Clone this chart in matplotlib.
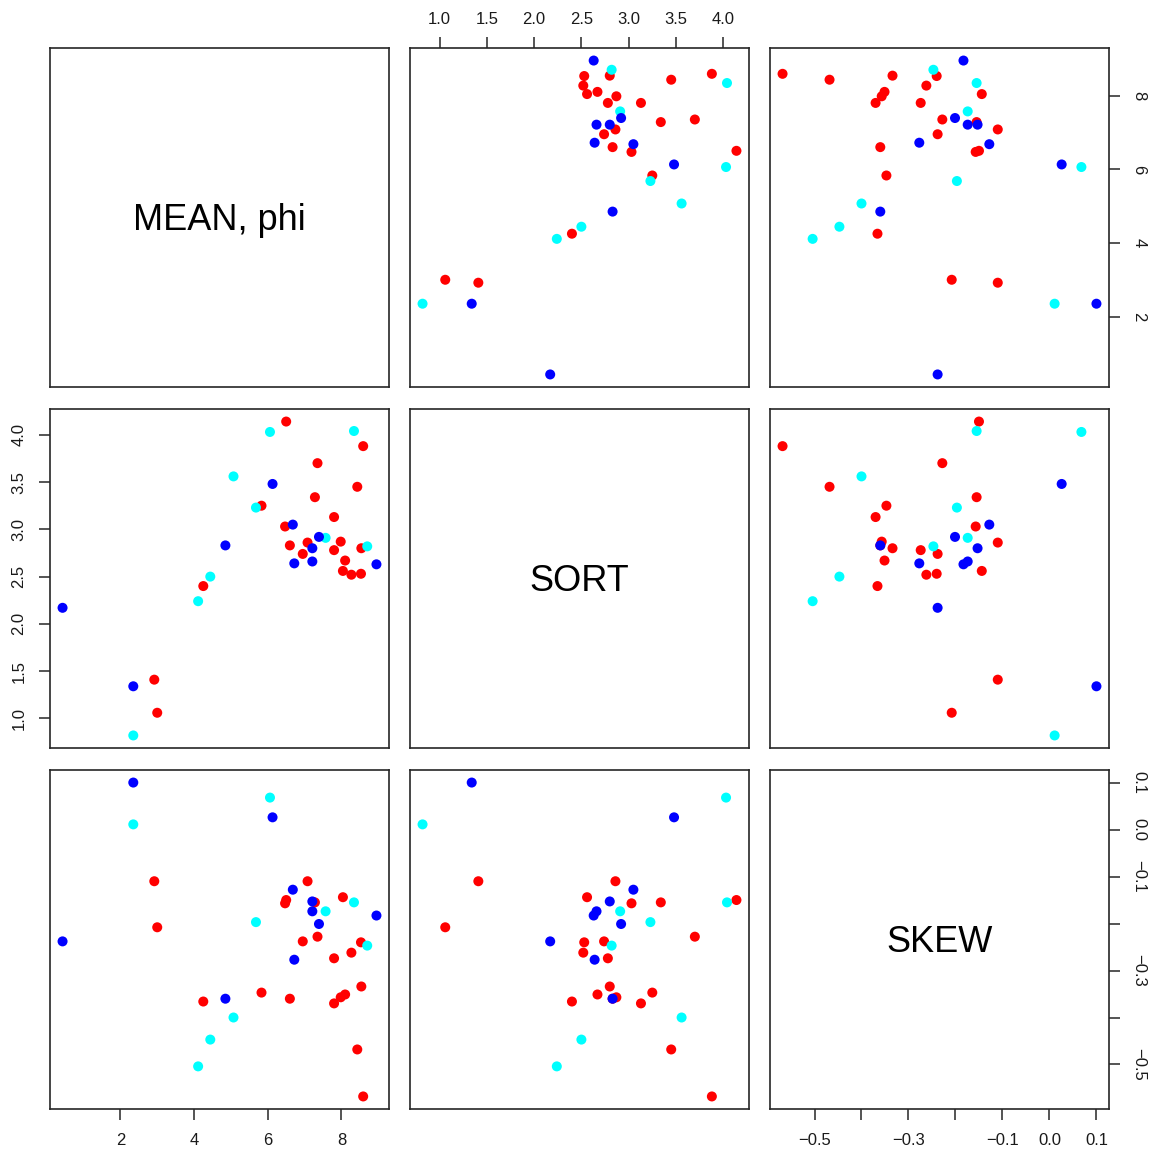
import matplotlib
matplotlib.use("Agg")
import matplotlib.pyplot as plt
import numpy as np

plt.rcParams['font.family'] = ['Liberation Sans', 'DejaVu Sans']

# ---- data: (MEAN phi, SORT, SKEW) per group ----
red_mean = [6.50, 8.59, 7.35, 8.43, 7.28, 5.83, 7.80, 6.47, 7.98, 6.60, 7.08,
            7.80, 8.54, 6.95, 8.10, 8.04, 8.27, 8.53, 2.92, 3.00, 4.25]
red_sort = [4.14, 3.88, 3.70, 3.45, 3.34, 3.25, 3.13, 3.03, 2.87, 2.83, 2.86,
            2.78, 2.80, 2.74, 2.67, 2.56, 2.52, 2.53, 1.41, 1.06, 2.40]
red_skew = [-0.150, -0.568, -0.228, -0.468, -0.155, -0.347, -0.370, -0.157, -0.357,
            -0.360, -0.110, -0.274, -0.334, -0.238, -0.351, -0.144, -0.262, -0.240,
            -0.110, -0.208, -0.366]

cyan_mean = [2.35, 4.11, 4.44, 5.07, 5.68, 6.06, 7.57, 8.34, 8.70]
cyan_sort = [0.82, 2.24, 2.50, 3.56, 3.23, 4.03, 2.91, 4.04, 2.82]
cyan_skew = [0.011, -0.504, -0.447, -0.400, -0.197, 0.068, -0.174, -0.155, -0.247]

blue_mean = [0.43, 2.35, 4.85, 6.13, 6.68, 7.39, 7.21, 7.21, 6.72, 8.95]
blue_sort = [2.17, 1.34, 2.83, 3.48, 3.05, 2.92, 2.80, 2.66, 2.64, 2.63]
blue_skew = [-0.238, 0.100, -0.360, 0.026, -0.128, -0.201, -0.153, -0.174, -0.277, -0.183]

var_names = ["MEAN, phi", "SORT", "SKEW"]
groups = [("#FF0000", [red_mean, red_sort, red_skew]),
          ("#00FFFF", [cyan_mean, cyan_sort, cyan_skew]),
          ("#0000FF", [blue_mean, blue_sort, blue_skew])]

mean_ticks = [2, 4, 6, 8]
mean_labels = ["2", "4", "6", "8"]
sort_ticks = [1.0, 1.5, 2.0, 2.5, 3.0, 3.5, 4.0]
sort_labels = ["1.0", "1.5", "2.0", "2.5", "3.0", "3.5", "4.0"]
skew_ticks = [-0.5, -0.4, -0.3, -0.2, -0.1, 0.0, 0.1]
skew_labels = ["\u22120.5", "", "\u22120.3", "", "\u22120.1", "0.0", "0.1"]
ticks = [(mean_ticks, mean_labels), (sort_ticks, sort_labels), (skew_ticks, skew_labels)]

# R-style 4% padded limits
lims = []
for k in range(3):
    allv = np.concatenate([np.asarray(g[1][k]) for g in groups])
    lo, hi = allv.min(), allv.max()
    pad = 0.04 * (hi - lo)
    lims.append((lo - pad, hi + pad))

W, H = 1156, 1155
fig = plt.figure(figsize=(W / 100, H / 100), dpi=100)
fig.patch.set_facecolor("white")

col_left = [50, 410, 770]
row_top = [48, 409, 770]
pw, ph = 339, 339

box_color = "#262626"
label_color = "#1a1a1a"

for i in range(3):          # row -> y variable
    for j in range(3):      # col -> x variable
        ax = fig.add_axes([col_left[j] / W, 1 - (row_top[i] + ph) / H, pw / W, ph / H])
        for s in ax.spines.values():
            s.set_color(box_color)
            s.set_linewidth(1.2)
        ax.set_xlim(lims[j])
        ax.set_ylim(lims[i])
        ax.set_xticks([])
        ax.set_yticks([])
        if i == j:
            ax.text(0.5, 0.49, var_names[i], transform=ax.transAxes,
                    ha="center", va="center", fontsize=26, color="black")
        else:
            for col, vals in groups:
                ax.scatter(vals[j], vals[i], s=52, color=col, edgecolors="none", zorder=3)
        # x axes: bottom on odd columns (row 3), top on even column (row 1)
        if i == 2 and j in (0, 2):
            t, l = ticks[j]
            ax.set_xticks(t)
            ax.set_xticklabels(l)
            ax.tick_params(axis="x", bottom=True, labelbottom=True, direction="out",
                           length=8, width=1.1, pad=9, labelsize=12,
                           colors=box_color, labelcolor=label_color)
        if i == 0 and j == 1:
            t, l = ticks[j]
            ax.set_xticks(t)
            ax.set_xticklabels(l)
            ax.tick_params(axis="x", top=True, labeltop=True, bottom=False,
                           labelbottom=False, direction="out",
                           length=8, width=1.1, pad=7, labelsize=12,
                           colors=box_color, labelcolor=label_color)
        # y axes: right on odd rows (col 3), left on even row (col 1)
        if j == 2 and i in (0, 2):
            t, l = ticks[i]
            ax.set_yticks(t)
            ax.set_yticklabels(l)
            ax.tick_params(axis="y", right=True, labelright=True, left=False,
                           labelleft=False, direction="out",
                           length=8, width=1.1, pad=8, labelsize=12,
                           colors=box_color, labelcolor=label_color)
            for lab in ax.get_yticklabels():
                lab.set_rotation(-90)
                lab.set_va("center")
                lab.set_ha("left")
        if j == 0 and i == 1:
            t, l = ticks[i]
            ax.set_yticks(t)
            ax.set_yticklabels(l)
            ax.tick_params(axis="y", left=True, labelleft=True, direction="out",
                           length=8, width=1.1, pad=9, labelsize=12,
                           colors=box_color, labelcolor=label_color)
            for lab in ax.get_yticklabels():
                lab.set_rotation(90)
                lab.set_va("center")
                lab.set_ha("right")

fig.savefig("out.png", dpi=100, facecolor="white")
